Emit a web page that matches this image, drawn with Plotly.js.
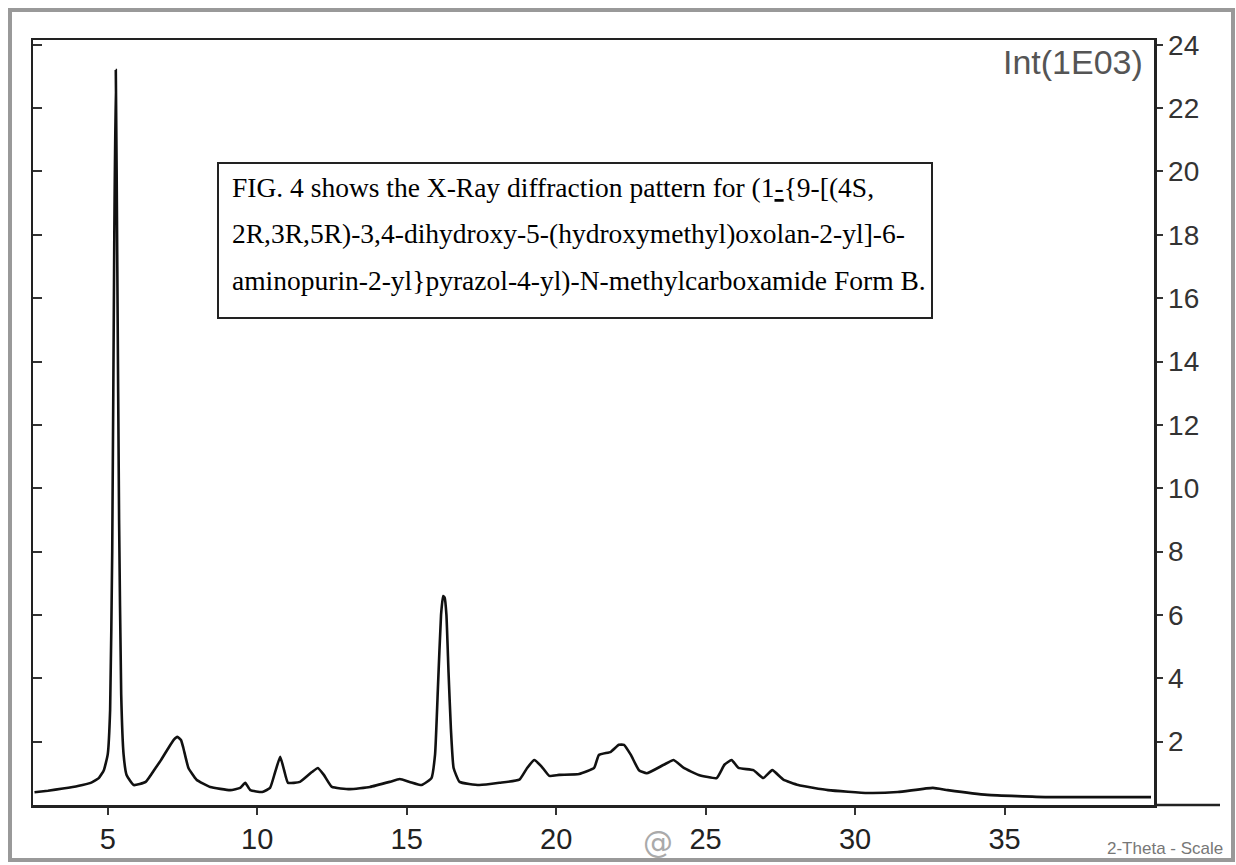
<!DOCTYPE html>
<html>
<head>
<meta charset="utf-8">
<script src="https://cdn.plot.ly/plotly-3.0.1.min.js"></script>
<style>html,body{margin:0;padding:0;background:#fff;}#chart{width:1236px;height:865px;}</style>
</head>
<body>
<div id="chart"></div>
<script>
// 2-theta (degrees)
const twoTheta = [2.55, 3.0, 3.5, 4.0, 4.43, 4.7, 4.87, 5.0, 5.08, 5.15, 5.22, 5.27, 5.32, 5.38, 5.45, 5.53, 5.63, 5.87,
  6.27, 6.6, 6.77, 7.03, 7.2, 7.33, 7.45, 7.53, 7.7, 7.97, 8.43, 9.1, 9.43, 9.6, 9.77, 10.17, 10.43, 10.6, 10.77, 10.9, 11.03,
  11.43, 11.83, 12.03, 12.23, 12.5, 13.1, 13.77, 14.43, 14.77, 15.1, 15.5, 15.83, 15.95, 16.05, 16.15, 16.22, 16.27,
  16.33, 16.4, 16.48, 16.57, 16.77, 17.43, 18.1, 18.77, 19.03, 19.27, 19.5, 19.77, 20.1, 20.77, 21.27, 21.43, 21.83,
  22.1, 22.27, 22.5, 22.77, 23.03, 23.6, 23.93, 24.27, 24.77, 25.37, 25.63, 25.87, 26.1, 26.6, 26.93, 27.23, 27.6,
  28.1, 29.1, 30.43, 31.43, 32.6, 33.1, 34.43, 36.43, 38.1, 39.9];
// intensity (x 1000 counts)
const intensity = [0.40, 0.45, 0.52, 0.60, 0.70, 0.85, 1.1, 1.6, 3.0, 8.0, 18.0, 23.2, 17.0, 9.0, 3.5, 1.6, 0.95, 0.63,
  0.73, 1.17, 1.4, 1.8, 2.05, 2.15, 2.05, 1.8, 1.17, 0.8, 0.57, 0.47, 0.54, 0.7, 0.47, 0.41, 0.54, 1.04, 1.52, 1.1, 0.7,
  0.73, 1.04, 1.17, 0.95, 0.57, 0.5, 0.57, 0.73, 0.82, 0.73, 0.63, 0.85, 1.6, 3.8, 6.0, 6.6, 6.55,
  6.0, 4.2, 2.4, 1.17, 0.73, 0.63, 0.7, 0.8, 1.17, 1.42, 1.23, 0.92, 0.95, 0.98, 1.17, 1.58, 1.68,
  1.9, 1.9, 1.58, 1.1, 1.0, 1.27, 1.42, 1.17, 0.95, 0.85, 1.27, 1.42, 1.17, 1.1, 0.85, 1.1, 0.8,
  0.63, 0.47, 0.38, 0.41, 0.54, 0.47, 0.32, 0.25, 0.25, 0.25];
const xTicks = [5, 10, 15, 20, 25, 30, 35];
const yTicks = [2, 4, 6, 8, 10, 12, 14, 16, 18, 20, 22, 24];
const captionLines = [
  "FIG. 4 shows the X-Ray diffraction pattern for (1<u>-</u>{9-[(4S,",
  "2R,3R,5R)-3,4-dihydroxy-5-(hydroxymethyl)oxolan-2-yl]-6-",
  "aminopurin-2-yl}pyrazol-4-yl)-N-methylcarboxamide Form B."
];

const W = 1236, H = 865;
const m = {l: 33, r: 82, t: 40, b: 60};
const pw = W - m.l - m.r, ph = H - m.t - m.b;
const px = v => (v - m.l) / pw;          // pixel -> paper x
const py = v => (H - m.b - v) / ph;      // pixel -> paper y

const trace = {
  x: twoTheta, y: intensity, type: 'scatter', mode: 'lines', line: {shape: 'spline', smoothing: 0.4, color: '#111', width: 2.6},
  hoverinfo: 'skip', showlegend: false
};
const ghost = {x: [twoTheta[0]], y: [intensity[0]], yaxis: 'y2', type: 'scatter', mode: 'markers',
  marker: {opacity: 0}, showlegend: false, hoverinfo: 'skip'};

const annotations = captionLines.map((t, i) => ({
  text: t, xref: 'paper', yref: 'paper', x: px(230), y: py(187 + i * 46.5),
  xanchor: 'left', yanchor: 'middle', showarrow: false,
  font: {family: 'Liberation Serif, Times New Roman, serif', size: 27.5, color: '#000'}
}));
annotations.push({text: 'Int(1E03)', xref: 'paper', yref: 'paper', x: px(1145), y: py(62),
  xanchor: 'right', yanchor: 'middle', showarrow: false,
  font: {family: 'Liberation Sans, Arial, sans-serif', size: 34, color: '#555'}});
annotations.push({text: '2-Theta - Scale', xref: 'paper', yref: 'paper', x: px(1225), y: py(848),
  xanchor: 'right', yanchor: 'middle', showarrow: false,
  font: {family: 'Liberation Sans, Arial, sans-serif', size: 17, color: '#777'}});
annotations.push({text: '@', xref: 'paper', yref: 'paper', x: px(658), y: py(842),
  xanchor: 'center', yanchor: 'middle', showarrow: false,
  font: {family: 'DejaVu Sans, sans-serif', size: 30, color: '#aaa'}});

const shapes = [
  {type: 'rect', xref: 'paper', yref: 'paper', x0: px(218), x1: px(932), y0: py(163), y1: py(318),
   line: {color: '#222', width: 2}, fillcolor: 'rgba(255,255,255,0)'},
  {type: 'line', xref: 'paper', yref: 'paper', x0: 1, x1: px(1220), y0: 0, y1: 0,
   line: {color: '#222', width: 2.5}},
  {type: 'rect', xref: 'paper', yref: 'paper', x0: px(10), x1: px(1233), y0: py(10), y1: py(860),
   line: {color: '#999', width: 4}}
];

const layout = {
  width: W, height: H, margin: m,
  paper_bgcolor: '#fff', plot_bgcolor: '#fff',
  xaxis: {range: [2.5, 40], tickvals: xTicks, ticktext: xTicks.map(String), ticks: 'outside', ticklen: 7,
    tickwidth: 2, tickcolor: '#333', showline: true, mirror: true, linecolor: '#222', linewidth: 2.5,
    showgrid: false, zeroline: false,
    tickfont: {family: 'Liberation Sans, Arial, sans-serif', size: 29, color: '#222'}},
  yaxis: {range: [0, 24.15], side: 'right', tickvals: yTicks, ticktext: yTicks.map(String), ticks: 'outside',
    ticklen: 6, tickwidth: 2, tickcolor: '#333', showline: true, mirror: true, linecolor: '#222', linewidth: 2.5,
    showgrid: false, zeroline: false,
    tickfont: {family: 'Liberation Sans, Arial, sans-serif', size: 28, color: '#333'}},
  yaxis2: {range: [0, 24.15], overlaying: 'y', side: 'left', tickvals: yTicks, ticks: 'inside', ticklen: 9,
    tickwidth: 2, tickcolor: '#333', showticklabels: false, showline: false, showgrid: false, zeroline: false},
  annotations: annotations,
  shapes: shapes,
  showlegend: false
};

Plotly.newPlot('chart', [trace, ghost], layout, {staticPlot: true, displayModeBar: false});
</script>
</body>
</html>
